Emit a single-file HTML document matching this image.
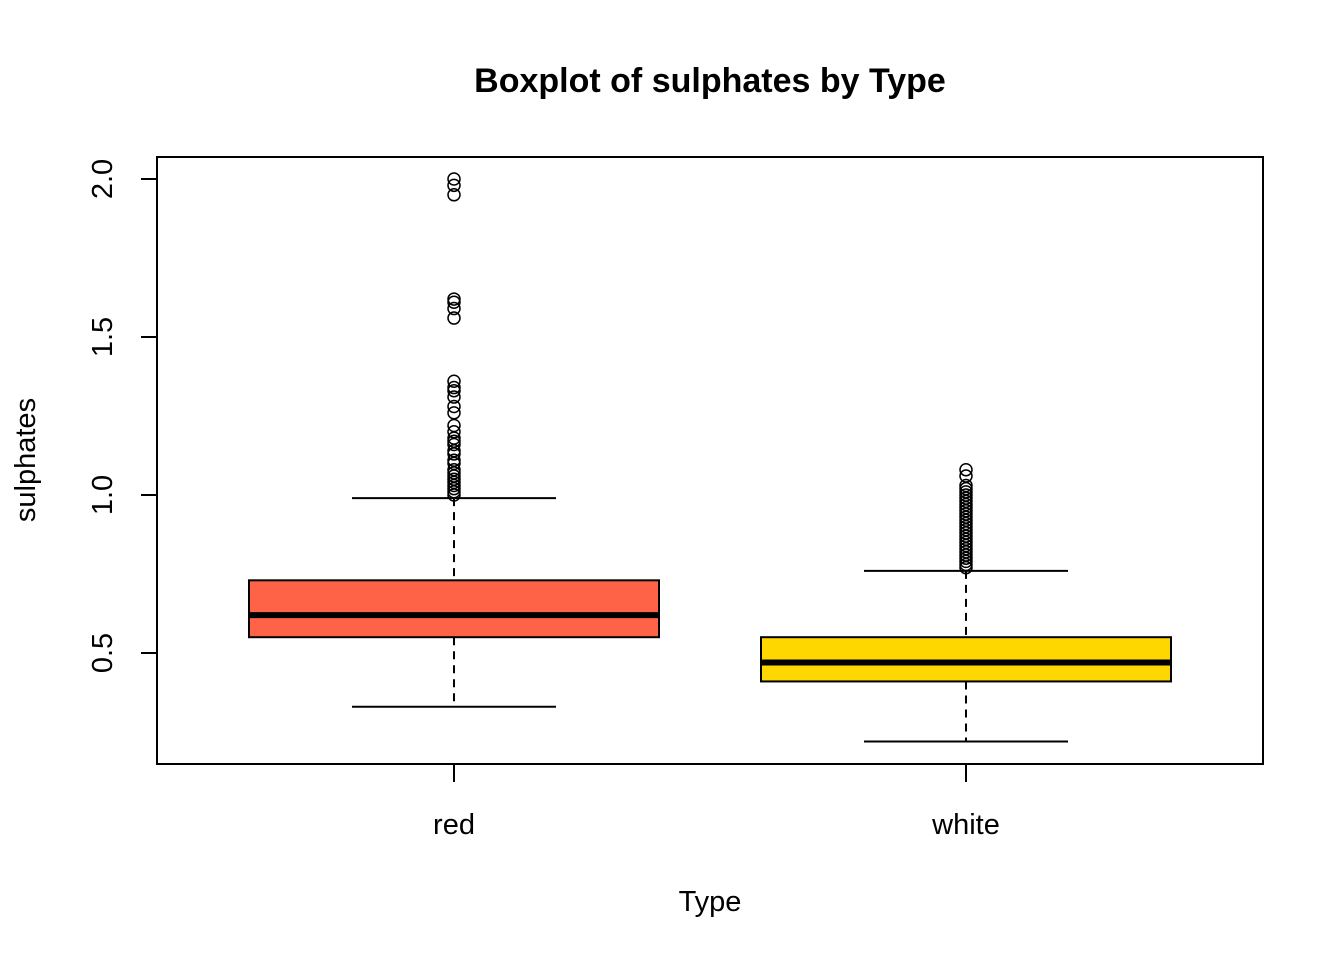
<!DOCTYPE html>
<html><head><meta charset="utf-8"><style>body{margin:0;background:#fff}svg{display:block}text{font-family:"Liberation Sans",Arial,sans-serif}</style></head>
<body>
<svg id="chart" width="1344" height="960">
<text x="710" y="92" font-size="34" font-weight="bold" text-anchor="middle">Boxplot of sulphates by Type</text>
<rect x="157" y="157" width="1106" height="607" fill="none" stroke="#000" stroke-width="2"/>
<text x="710" y="911" font-size="29" text-anchor="middle">Type</text>
<text transform="translate(35,460) rotate(-90)" font-size="29" text-anchor="middle">sulphates</text>
<g id="axes"></g><g id="marks"></g>
</svg>
<script>
const categories=["red","white"];
const q1=[0.55,0.41];
const medians=[0.62,0.47];
const q3=[0.73,0.55];
const whiskLow=[0.33,0.22];
const whiskHigh=[0.99,0.76];
const fills=["#FF6347","#FFD700"];
const outliersRed=[2.0,1.98,1.95,1.62,1.61,1.59,1.56,1.36,1.34,1.33,1.31,1.28,1.26,1.22,1.2,1.18,1.17,1.16,1.14,1.13,1.11,1.1,1.08,1.07,1.06,1.05,1.04,1.03,1.02,1.01,1.0];
const outliersWhite=[1.08,1.06,1.03,1.02,1.01,1.0,0.99,0.98,0.97,0.96,0.95,0.94,0.93,0.92,0.91,0.9,0.89,0.88,0.87,0.86,0.85,0.84,0.83,0.82,0.81,0.8,0.79,0.78,0.77];
const outliers=[outliersRed,outliersWhite];
const yTicks=[0.5,1.0,1.5,2.0];
const yTickLabels=["0.5","1.0","1.5","2.0"];
const NS="http://www.w3.org/2000/svg";
const y=v=>179+(2-v)*316;
const xc=i=>454+i*512;
const axes=document.getElementById('axes'),marks=document.getElementById('marks');
function mk(p,tag,attrs){const e=document.createElementNS(NS,tag);for(const k in attrs)e.setAttribute(k,attrs[k]);p.appendChild(e);return e;}
yTicks.forEach((t,i)=>{
 const l=mk(axes,'line',{x1:141,x2:157,y1:y(t),y2:y(t),stroke:'#000','stroke-width':2});
 
 
 const tx=mk(axes,'text',{transform:`translate(112,${y(t)}) rotate(-90)`,'font-size':29,'text-anchor':'middle'});
 tx.textContent=yTickLabels[i];
 
 
});
categories.forEach((c,i)=>{
 const cx=xc(i);
 const l=mk(axes,'line',{x1:cx,x2:cx,y1:764,y2:782,stroke:'#000','stroke-width':2});
 
 
 const tx=mk(axes,'text',{x:cx,y:834,'font-size':29,'text-anchor':'middle'});
 tx.textContent=c;
 
 
 const g=mk(marks,'g',{});
 
 
 mk(g,'line',{x1:cx,x2:cx,y1:y(whiskHigh[i]),y2:y(q3[i]),stroke:'#000','stroke-width':2,'stroke-dasharray':'8,6'});
 mk(g,'line',{x1:cx,x2:cx,y1:y(q1[i]),y2:y(whiskLow[i]),stroke:'#000','stroke-width':2,'stroke-dasharray':'8,6'});
 mk(g,'line',{x1:cx-102,x2:cx+102,y1:y(whiskHigh[i]),y2:y(whiskHigh[i]),stroke:'#000','stroke-width':2});
 mk(g,'line',{x1:cx-102,x2:cx+102,y1:y(whiskLow[i]),y2:y(whiskLow[i]),stroke:'#000','stroke-width':2});
 mk(g,'rect',{x:cx-205,y:y(q3[i]),width:410,height:y(q1[i])-y(q3[i]),fill:fills[i],stroke:'#000','stroke-width':2});
 mk(g,'line',{x1:cx-205,x2:cx+205,y1:y(medians[i]),y2:y(medians[i]),stroke:'#000','stroke-width':6});
 outliers[i].forEach(v=>{
  const o=mk(g,'circle',{cx:cx,cy:y(v),r:6,fill:'none',stroke:'#000','stroke-width':1.5});
  
  
 });
});
</script>
</body></html>
